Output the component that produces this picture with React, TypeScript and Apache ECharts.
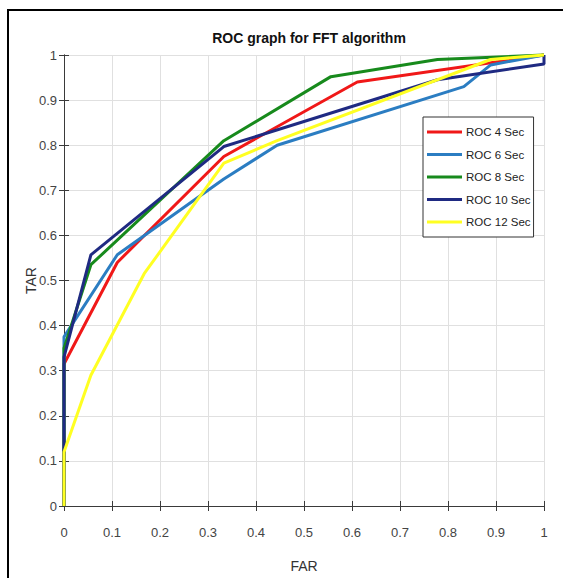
import React, { useEffect, useRef } from "react";
import * as echarts from "echarts";

const TITLE = "ROC graph for FFT algorithm";
const X_NAME = "FAR";
const Y_NAME = "TAR";

const roc4Far = [0, 0, 0.111, 0.333, 0.611, 1];
const roc4Tar = [0, 0.315, 0.54, 0.775, 0.94, 1];

const roc6Far = [0, 0, 0.111, 0.333, 0.444, 0.833, 0.889, 1];
const roc6Tar = [0, 0.375, 0.557, 0.725, 0.8, 0.93, 0.978, 1];

const roc8Far = [0, 0, 0.056, 0.333, 0.556, 0.778, 1];
const roc8Tar = [0, 0.35, 0.535, 0.81, 0.952, 0.99, 1];

const roc10Far = [0, 0, 0.056, 0.333, 0.778, 1, 1];
const roc10Tar = [0, 0.33, 0.557, 0.797, 0.945, 0.98, 1];

const roc12Far = [0, 0, 0.056, 0.167, 0.333, 0.444, 0.889, 1];
const roc12Tar = [0, 0.12, 0.29, 0.515, 0.76, 0.81, 0.99, 1];

const seriesNames = ["ROC 4 Sec", "ROC 6 Sec", "ROC 8 Sec", "ROC 10 Sec", "ROC 12 Sec"];
const seriesColors = ["#f01818", "#2b7dc2", "#178a1c", "#1f2a82", "#ffff22"];
const seriesFar = [roc4Far, roc6Far, roc8Far, roc10Far, roc12Far];
const seriesTar = [roc4Tar, roc6Tar, roc8Tar, roc10Tar, roc12Tar];

const FONT = "'Liberation Sans', Arial, sans-serif";

export default function App() {
  const ref = useRef<HTMLDivElement>(null);
  useEffect(() => {
    if (!ref.current) return;
    const chart = echarts.init(ref.current, undefined, { renderer: "svg" });
    const fmt = (v: number) => String(Math.round(v * 10) / 10);
    const axisLine = { show: true, lineStyle: { color: "#3a3a3a", width: 1 } };
    const tick = { show: true, inside: true, length: 5, lineStyle: { color: "#3a3a3a" } };
    chart.setOption({
      animation: false,
      backgroundColor: "#ffffff",
      title: {
        text: TITLE,
        left: 304,
        top: 26,
        textAlign: "center",
        textStyle: { fontFamily: FONT, fontSize: 14, fontWeight: "bold", color: "#111" },
      },
      graphic: [
        {
          type: "line",
          shape: { x1: 8, y1: 10, x2: 8, y2: 600 },
          style: { stroke: "#000", lineWidth: 2 },
          silent: true,
        },
        {
          type: "line",
          shape: { x1: 7, y1: 10, x2: 600, y2: 10 },
          style: { stroke: "#000", lineWidth: 2 },
          silent: true,
        },
      ],
      grid: { left: 64, top: 55, width: 480, height: 462, containLabel: false },
      legend: {
        orient: "vertical",
        left: 423,
        top: 117,
        padding: [9, 3, 9, 4],
        itemGap: 10.5,
        itemWidth: 35,
        itemHeight: 3,
        icon: "rect",
        backgroundColor: "#ffffff",
        borderColor: "#333",
        borderWidth: 1,
        textStyle: { fontFamily: FONT, fontSize: 11.5, color: "#222", padding: [0, 0, 0, -1] },
        data: seriesNames,
      },
      xAxis: [
        {
          type: "value",
          min: 0,
          max: 1,
          interval: 0.1,
          position: "bottom",
          name: X_NAME,
          nameLocation: "middle",
          nameGap: 53,
          nameMoveOverlap: false,
          nameTextStyle: { fontFamily: FONT, fontSize: 14, color: "#333" },
          axisLine,
          axisTick: tick,
          axisLabel: { formatter: fmt, margin: 20, fontFamily: FONT, fontSize: 13, color: "#444" },
          splitLine: { show: true, lineStyle: { color: "#e0e0e0", width: 1 } },
        },
        {
          type: "value",
          min: 0,
          max: 1,
          interval: 0.1,
          position: "top",
          axisLine,
          axisTick: tick,
          axisLabel: { show: false },
          splitLine: { show: false },
        },
      ],
      yAxis: [
        {
          type: "value",
          min: 0,
          max: 1,
          interval: 0.1,
          position: "left",
          name: Y_NAME,
          nameLocation: "middle",
          nameGap: 26,
          nameMoveOverlap: false,
          nameRotate: 90,
          nameTextStyle: { fontFamily: FONT, fontSize: 14, color: "#333" },
          axisLine,
          axisTick: tick,
          axisLabel: { formatter: fmt, margin: 7, fontFamily: FONT, fontSize: 13, color: "#444" },
          splitLine: { show: true, lineStyle: { color: "#e0e0e0", width: 1 } },
        },
        {
          type: "value",
          min: 0,
          max: 1,
          interval: 0.1,
          position: "right",
          axisLine,
          axisTick: tick,
          axisLabel: { show: false },
          splitLine: { show: false },
        },
      ],
      series: seriesNames.map((name, i) => ({
        name,
        type: "line",
        xAxisIndex: 0,
        yAxisIndex: 0,
        symbol: "none",
        clip: false,
        color: seriesColors[i],
        lineStyle: { width: 3, color: seriesColors[i] },
        data: seriesFar[i].map((f, j) => [f, seriesTar[i][j]]),
        z: 2 + i,
      })),
    });
    return () => chart.dispose();
  }, []);
  return (
    <div
      ref={ref}
      style={{ position: "absolute", left: 0, top: 0, width: 563, height: 578 }}
    />
  );
}
